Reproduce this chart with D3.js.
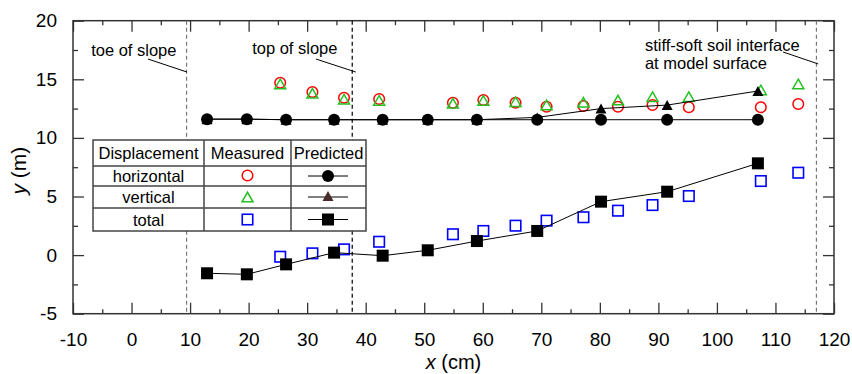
<!DOCTYPE html>
<html>
<head>
<meta charset="utf-8">
<script src="https://cdn.jsdelivr.net/npm/d3@7"></script>
<style>
  body { margin: 0; background: #fff; }
  svg { display: block; font-family: "Liberation Sans", Arial, sans-serif; }
</style>
</head>
<body>
<svg id="chart" width="852" height="374"></svg>
<script>
// positions along the model (cm)
const predX = [12.9, 19.7, 26.4, 34.6, 42.9, 50.6, 59.0, 69.3, 80.2, 91.5, 107.0]
const predH = [11.6, 11.6, 11.55, 11.55, 11.55, 11.55, 11.55, 11.55, 11.55, 11.55, 11.55]
const predV = [11.6, 11.6, 11.55, 11.55, 11.55, 11.55, 11.55, 11.75, 12.5, 12.8, 14.0]
const predT = [-1.55, -1.64, -0.79, 0.21, -0.05, 0.41, 1.2, 2.06, 4.56, 5.41, 7.83]

const measX = [25.4, 30.9, 36.3, 42.3, 54.9, 60.1, 65.6, 70.9, 77.2, 83.1, 89.0, 95.2, 107.5, 113.9]
const measH = [14.71, 13.92, 13.43, 13.32, 13.0, 13.23, 13.0, 12.66, 12.72, 12.66, 12.81, 12.61, 12.61, 12.89]
const measV = [14.6, 13.8, 13.3, 13.2, 12.95, 13.2, 13.09, 12.81, 13.04, 13.23, 13.52, 13.52, 14.09, 14.6]
const measT = [-0.14, 0.15, 0.49, 1.14, 1.78, 2.06, 2.51, 2.94, 3.23, 3.79, 4.27, 5.04, 6.32, 7.03]

const xTicks = [-10, 0, 10, 20, 30, 40, 50, 60, 70, 80, 90, 100, 110, 120]
const yTicks = [-5, 0, 5, 10, 15, 20]

// vertical reference lines and their notes
const refLines = [
  { x: 9.4, color: '#777' },
  { x: 37.7, color: '#000' },
  { x: 117.0, color: '#777' },
]
const notes = [
  { lines: ['toe of slope'], x: -6.9, y: 17.0, from: [2.8, 16.73], to: [9.47, 15.62] },
  { lines: ['top of slope'], x: 20.6, y: 17.16, from: [31.5, 16.73], to: [38.3, 15.62] },
  { lines: ['stiff-soft soil interface', 'at model surface'], x: 87.7, y: 17.41, from: [111.3, 17.33], to: [117.3, 16.31] },
]

const svg = d3.select('#chart')
const x = d3.scaleLinear().domain([-10, 120]).range([73, 834])
const y = d3.scaleLinear().domain([-5, 20]).range([313.7, 20.7])
const AXIS = '#333'
const plain = d => String(d) // keep the ascii hyphen for negatives

// axes with inward ticks on all four sides
function styleAxis(g) {
  g.select('.domain').remove()
  g.selectAll('.tick line').attr('stroke', AXIS).attr('stroke-width', 1.3)
  g.selectAll('text').attr('fill', '#000').style('font-size', '19px')
}
const xMinor = d3.range(-5, 120, 10)
const yMinor = d3.range(-2.5, 20, 5)

svg.append('g').attr('transform', `translate(0,${y(-5)})`)
  .call(d3.axisBottom(x).tickValues(xTicks).tickSize(-11).tickPadding(19).tickFormat(plain))
  .call(styleAxis)
svg.append('g').attr('transform', `translate(0,${y(-5)})`)
  .call(d3.axisBottom(x).tickValues(xMinor).tickSize(-4.5).tickFormat(''))
  .call(styleAxis)
svg.append('g').attr('transform', `translate(0,${y(20)})`)
  .call(d3.axisTop(x).tickValues(xTicks).tickSize(-11).tickFormat(''))
  .call(styleAxis)
svg.append('g').attr('transform', `translate(0,${y(20)})`)
  .call(d3.axisTop(x).tickValues(xMinor).tickSize(-4.5).tickFormat(''))
  .call(styleAxis)
svg.append('g').attr('transform', `translate(${x(-10)},0)`)
  .call(d3.axisLeft(y).tickValues(yTicks).tickSize(-11).tickPadding(16).tickFormat(plain))
  .call(styleAxis)
svg.append('g').attr('transform', `translate(${x(-10)},0)`)
  .call(d3.axisLeft(y).tickValues(yMinor).tickSize(-5).tickFormat(''))
  .call(styleAxis)
svg.append('g').attr('transform', `translate(${x(120)},0)`)
  .call(d3.axisRight(y).tickValues(yTicks).tickSize(-11).tickFormat(''))
  .call(styleAxis)
svg.append('g').attr('transform', `translate(${x(120)},0)`)
  .call(d3.axisRight(y).tickValues(yMinor).tickSize(-5).tickFormat(''))
  .call(styleAxis)

svg.append('rect')
  .attr('x', x(-10)).attr('y', y(20))
  .attr('width', x(120) - x(-10)).attr('height', y(-5) - y(20))
  .attr('fill', 'none').attr('stroke', AXIS).attr('stroke-width', 1.5)

// axis titles
svg.append('text').attr('x', x(55)).attr('y', 369).attr('text-anchor', 'middle')
  .style('font-size', '20px')
  .call(t => { t.append('tspan').style('font-style', 'italic').text('x'); t.append('tspan').text(' (cm)') })
svg.append('text').attr('transform', `translate(26,${y(7.2)}) rotate(-90)`).attr('text-anchor', 'middle')
  .style('font-size', '21px')
  .call(t => { t.append('tspan').style('font-style', 'italic').text('y'); t.append('tspan').text(' (m)') })

// reference lines
svg.append('g').selectAll('line').data(refLines).enter().append('line')
  .attr('x1', d => x(d.x)).attr('x2', d => x(d.x))
  .attr('y1', y(20)).attr('y2', y(-5))
  .attr('stroke', d => d.color).attr('stroke-width', 1.2).attr('stroke-dasharray', '4,3')

// notes
const noteG = svg.append('g').style('font-size', '16.5px')
notes.forEach(n => {
  n.lines.forEach((s, i) => {
    noteG.append('text').attr('x', x(n.x)).attr('y', y(n.y) + i * 18).text(s)
  })
  noteG.append('line')
    .attr('x1', x(n.from[0])).attr('y1', y(n.from[1]))
    .attr('x2', x(n.to[0])).attr('y2', y(n.to[1]))
    .attr('stroke', '#000').attr('stroke-width', 1)
})

// marker helpers
const tri = (w, h) => `M0,${-h / 2}L${w / 2},${h / 2}L${-w / 2},${h / 2}Z`
function circles(g, xs, ys, r, fill, stroke, sw) {
  g.selectAll(null).data(xs).enter().append('circle')
    .attr('cx', d => x(d)).attr('cy', (d, i) => y(ys[i])).attr('r', r)
    .attr('fill', fill).attr('stroke', stroke).attr('stroke-width', sw)
}
function squares(g, xs, ys, s, fill, stroke, sw) {
  g.selectAll(null).data(xs).enter().append('rect')
    .attr('x', d => x(d) - s / 2).attr('y', (d, i) => y(ys[i]) - s / 2)
    .attr('width', s).attr('height', s)
    .attr('fill', fill).attr('stroke', stroke).attr('stroke-width', sw)
}
function triangles(g, xs, ys, w, h, fill, stroke, sw) {
  g.selectAll(null).data(xs).enter().append('path')
    .attr('d', tri(w, h))
    .attr('transform', (d, i) => `translate(${x(d)},${y(ys[i])})`)
    .attr('fill', fill).attr('stroke', stroke).attr('stroke-width', sw)
}

const RED = '#ff0000', GREEN = '#22c022', BLUE = '#0000ff'

// measured
const meas = svg.append('g')
circles(meas, measX, measH, 5.3, 'none', RED, 1.5)
triangles(meas, measX, measV, 11, 9.5, 'none', GREEN, 1.5)
squares(meas, measX, measT, 10.5, 'none', BLUE, 1.6)

// predicted
const line = d3.line().x(d => x(d[0])).y(d => y(d[1]))
const pred = svg.append('g')
;[predH, predV, predT].forEach(ys => {
  pred.append('path').datum(predX.map((d, i) => [d, ys[i]]))
    .attr('d', line).attr('fill', 'none').attr('stroke', '#000').attr('stroke-width', 1)
})
triangles(pred, predX, predV, 11, 10, '#000', 'none', 0)
circles(pred, predX, predH, 6, '#000', 'none', 0)
squares(pred, predX, predT, 12, '#000', 'none', 0)

// legend table
const colEdges = [93, 204, 291, 366]
const rowEdges = [140, 166, 186, 208, 231]
const header = ['Displacement', 'Measured', 'Predicted']
const rows = ['horizontal', 'vertical', 'total']
const leg = svg.append('g')
leg.append('rect').attr('x', colEdges[0]).attr('y', rowEdges[0])
  .attr('width', colEdges[3] - colEdges[0]).attr('height', rowEdges[4] - rowEdges[0])
  .attr('fill', '#fff').attr('stroke', '#444').attr('stroke-width', 1.5)
colEdges.slice(1, 3).forEach(cx => leg.append('line')
  .attr('x1', cx).attr('x2', cx).attr('y1', rowEdges[0]).attr('y2', rowEdges[4])
  .attr('stroke', '#444').attr('stroke-width', 1.5))
rowEdges.slice(1, 4).forEach(ry => leg.append('line')
  .attr('x1', colEdges[0]).attr('x2', colEdges[3]).attr('y1', ry).attr('y2', ry)
  .attr('stroke', '#444').attr('stroke-width', 1.5))
const colMid = i => (colEdges[i] + colEdges[i + 1]) / 2
const rowMid = i => (rowEdges[i] + rowEdges[i + 1]) / 2
header.forEach((h, i) => leg.append('text').attr('x', colMid(i)).attr('y', rowMid(0) + 6)
  .attr('text-anchor', 'middle').style('font-size', '16.5px').text(h))
rows.forEach((r, i) => leg.append('text').attr('x', colMid(0)).attr('y', rowMid(i + 1) + 6)
  .attr('text-anchor', 'middle').style('font-size', '16.5px').text(r))
const mx = colMid(1), px = colMid(2) - 0.5
leg.append('circle').attr('cx', mx).attr('cy', rowMid(1) - 0.5).attr('r', 5.3)
  .attr('fill', 'none').attr('stroke', RED).attr('stroke-width', 1.5)
leg.append('path').attr('d', tri(11, 9.5)).attr('transform', `translate(${mx},${rowMid(2)})`)
  .attr('fill', 'none').attr('stroke', GREEN).attr('stroke-width', 1.5)
leg.append('rect').attr('x', mx - 5.25).attr('y', rowMid(3) - 5.25).attr('width', 10.5).attr('height', 10.5)
  .attr('fill', 'none').attr('stroke', BLUE).attr('stroke-width', 1.6)
;[1, 2, 3].forEach(i => leg.append('line')
  .attr('x1', px - 20).attr('x2', px + 20).attr('y1', rowMid(i)).attr('y2', rowMid(i))
  .attr('stroke', '#000').attr('stroke-width', 1))
leg.append('circle').attr('cx', px).attr('cy', rowMid(1)).attr('r', 6).attr('fill', '#000')
leg.append('path').attr('d', tri(11, 10)).attr('transform', `translate(${px},${rowMid(2) - 1})`).attr('fill', '#4a2a2a')
leg.append('rect').attr('x', px - 6).attr('y', rowMid(3) - 6).attr('width', 12).attr('height', 12).attr('fill', '#000')
</script>
</body>
</html>
